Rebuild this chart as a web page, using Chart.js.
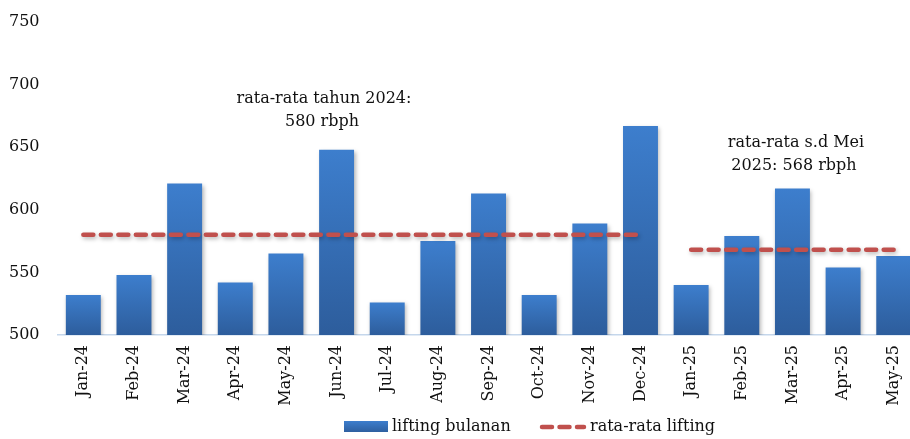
<!DOCTYPE html>
<html>
<head>
<meta charset="utf-8">
<script src="https://cdn.jsdelivr.net/npm/chart.js@4.4.1/dist/chart.umd.min.js"></script>
<style>
  html, body { margin: 0; padding: 0; background: #fff; overflow: hidden; }
  #wrap { position: relative; width: 923px; height: 439px; }
</style>
</head>
<body>
<div id="wrap"><canvas id="chart"></canvas></div>
<script>
const labels = ["Jan-24", "Feb-24", "Mar-24", "Apr-24", "May-24", "Jun-24", "Jul-24", "Aug-24", "Sep-24",
  "Oct-24", "Nov-24", "Dec-24", "Jan-25", "Feb-25", "Mar-25", "Apr-25", "May-25"];
const liftingBulanan = [532, 548, 621, 542, 565, 648, 526, 575, 613, 532, 589, 667, 540, 579, 617, 554, 563];
const rataRata2024 = [580, 580, 580, 580, 580, 580, 580, 580, 580, 580, 580, 580, null, null, null, null, null];
const rataRata2025 = [null, null, null, null, null, null, null, null, null, null, null, null, 568, 568, 568, 568, 568];
const yTicks = [500, 550, 600, 650, 700, 750];

const FONT = "'DejaVu Serif', serif";
const RED = "#C0504D";

function barGradient(ctx) {
  const chart = ctx.chart;
  const y = chart.scales && chart.scales.y;
  if (!chart.chartArea || !y || ctx.raw == null) return "#3A78C4";
  const top = y.getPixelForValue(ctx.raw);
  const bottom = y.getPixelForValue(500);
  const g = chart.ctx.createLinearGradient(0, top, 0, bottom);
  g.addColorStop(0, "#3D7ECD");
  g.addColorStop(1, "#2D5D9C");
  return g;
}

// soft shadow under bars and dashed lines
const shadowPlugin = {
  id: "shadow",
  beforeDatasetDraw(chart) {
    const c = chart.ctx;
    c.save();
    c.shadowColor = "rgba(0,0,0,0.28)";
    c.shadowBlur = 4;
    c.shadowOffsetX = 1.5;
    c.shadowOffsetY = 2;
  },
  afterDatasetDraw(chart) {
    chart.ctx.restore();
  }
};

// text notes and legend
const notesPlugin = {
  id: "notes",
  afterDraw(chart) {
    const c = chart.ctx;
    c.save();
    c.fillStyle = "#111";
    c.font = "16px " + FONT;
    c.textAlign = "center";
    c.textBaseline = "middle";
    c.fillText("rata-rata tahun 2024:", 324, 99);
    c.fillText("580 rbph", 322, 122);
    c.fillText("rata-rata s.d Mei", 796, 143);
    c.fillText("2025: 568 rbph", 794, 166);

    // legend
    const ly = 427;
    const g = c.createLinearGradient(0, ly - 6, 0, ly + 6);
    g.addColorStop(0, "#3D7ECD");
    g.addColorStop(1, "#2D5D9C");
    c.fillStyle = g;
    c.fillRect(344, ly - 6, 44, 11);
    c.fillStyle = "#111";
    c.textAlign = "left";
    c.fillText("lifting bulanan", 392, ly);

    c.strokeStyle = RED;
    c.lineWidth = 4.5;
    c.lineCap = "round";
    c.setLineDash([10, 7.5]);
    c.beginPath();
    c.moveTo(542, ly);
    c.lineTo(584, ly);
    c.stroke();
    c.setLineDash([]);
    c.fillText("rata-rata lifting", 590, ly);
    c.restore();
  }
};

const lineStyle = {
  type: "line",
  borderColor: RED,
  borderWidth: 4.5,
  borderDash: [10, 7.5],
  borderCapStyle: "round",
  pointRadius: 0,
  pointHoverRadius: 0,
  fill: false,
  spanGaps: false
};

new Chart(document.getElementById("chart"), {
  type: "bar",
  data: {
    labels: labels,
    datasets: [
      Object.assign({ label: "rata-rata lifting", data: rataRata2024, order: 0 }, lineStyle),
      Object.assign({ label: "rata-rata lifting", data: rataRata2025, order: 0 }, lineStyle),
      {
        label: "lifting bulanan",
        data: liftingBulanan,
        backgroundColor: barGradient,
        borderWidth: 0,
        barPercentage: 0.69,
        categoryPercentage: 1,
        order: 1
      }
    ]
  },
  options: {
    responsive: true,
    maintainAspectRatio: false,
    animation: false,
    layout: { padding: { left: 9, top: 22, right: 2, bottom: 0 } },
    plugins: {
      legend: { display: false },
      tooltip: { enabled: false }
    },
    scales: {
      x: {
        grid: { display: false, drawTicks: false },
        border: { display: true, color: "#C5D7EC", width: 1.5 },
        ticks: {
          color: "#111",
          font: { family: FONT, size: 16 },
          minRotation: 90,
          maxRotation: 90,
          padding: 10,
          autoSkip: false
        },
        afterFit(scale) { scale.height = 104; }
      },
      y: {
        min: 500,
        max: 750,
        afterBuildTicks(scale) { scale.ticks = yTicks.map(v => ({ value: v })); },
        grid: { display: false, drawTicks: false },
        border: { display: false },
        ticks: {
          color: "#111",
          font: { family: FONT, size: 16 },
          padding: 0,
          crossAlign: "far"
        },
        afterFit(scale) { scale.width = 49; }
      }
    }
  },
  plugins: [shadowPlugin, notesPlugin]
});
</script>
</body>
</html>
